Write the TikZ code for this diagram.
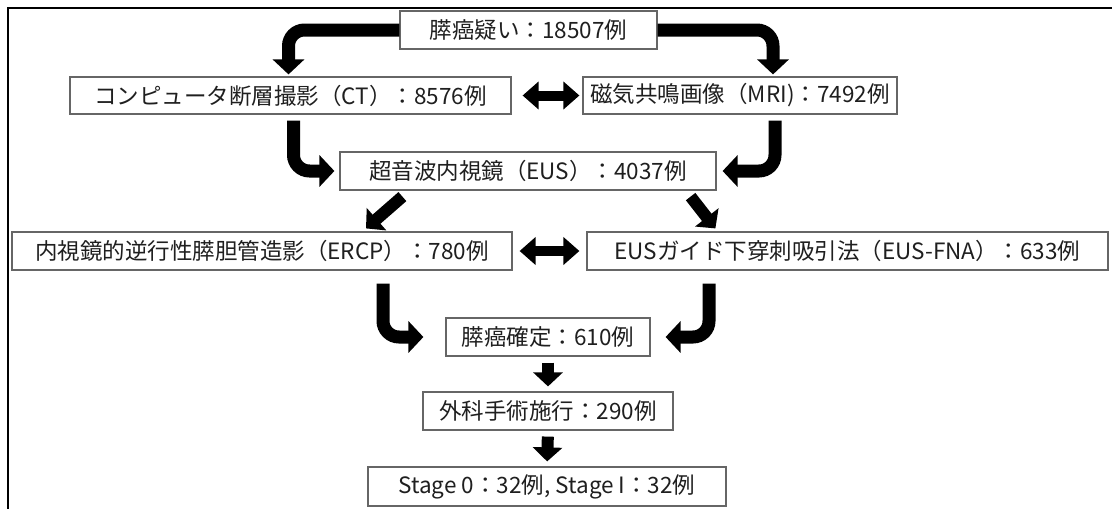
\documentclass[tikz,border=0pt]{standalone}
\usepackage{fontspec}
\setmainfont{Noto Sans CJK JP}
\usetikzlibrary{arrows.meta}
\begin{document}
\begin{tikzpicture}[x=1pt,y=-1pt,
  box/.style={draw=black!60, line width=1.2pt, fill=white, inner sep=0pt,
    font=\fontsize{22.5}{23}\selectfont, text=black!88},
  fat/.style={draw=black, line width=13pt, rounded corners=16pt,
    -{Triangle[width=31pt,length=15pt]}},
  slim/.style={draw=black, line width=12pt,
    -{Triangle[width=29pt,length=14pt]}},
  dbl/.style={draw=black, line width=10pt,
    {Triangle[width=27pt,length=16pt]}-{Triangle[width=27pt,length=16pt]}}
]
\useasboundingbox (0,0) rectangle (1112,509);
\draw[line width=2pt, line cap=rect] (8,509) -- (8,8) -- (1112,8);

\node[box, minimum width=257pt, minimum height=38pt] (top) at (528.5,30) {膵癌疑い：18507例};
\node[box, minimum width=441pt, minimum height=37pt] (ct) at (290.5,95.5) {コンピュータ断層撮影（CT）：8576例};
\node[box, minimum width=314pt, minimum height=37pt] (mri) at (740,95.5) {磁気共鳴画像（MRI)：7492例};
\node[box, minimum width=376pt, minimum height=38pt] (eus) at (528,171) {超音波内視鏡（EUS）：4037例};
\node[box, minimum width=500pt, minimum height=38pt] (ercp) at (262,251) {内視鏡的逆行性膵胆管造影（ERCP）：780例};
\node[box, minimum width=521pt, minimum height=38pt] (fna) at (847.5,251) {EUSガイド下穿刺吸引法（EUS-FNA）：633例};
\node[box, minimum width=204pt, minimum height=38pt] (conf) at (548,337) {膵癌確定：610例};
\node[box, minimum width=250pt, minimum height=38pt] (surg) at (548,411) {外科手術施行：290例};
\node[box, minimum width=358pt, minimum height=39pt] (stage) at (547,486.5) {Stage 0：32例, Stage I：32例};

% top to CT / MRI
\draw[fat, shorten >=2pt] (top.west) -| ([xshift=-2pt]ct.north);
\draw[fat, shorten >=2pt] (top.east) -| ([xshift=33pt]mri.north);
% CT <-> MRI
\draw[dbl, shorten <=11pt, shorten >=3pt] (ct.east) -- (mri.west);
% CT, MRI to EUS
\draw[fat] ([xshift=3pt,yshift=-6pt]ct.south) |- ([xshift=-5pt]eus.west);
\draw[fat] ([xshift=35pt,yshift=-6pt]mri.south) |- ([xshift=6pt]eus.east);
% EUS to ERCP / FNA
\draw[slim] ([xshift=63pt,yshift=-6pt]eus.south west) -- ([xshift=104pt,yshift=3pt]ercp.north);
\draw[slim] ([xshift=-26pt,yshift=-6pt]eus.south east) -- ([xshift=129pt,yshift=3pt]fna.north west);
% ERCP <-> FNA
\draw[dbl, shorten <=7pt, shorten >=7pt] (ercp.east) -- (fna.west);
% ERCP, FNA to confirmed
\draw[fat] ([xshift=121pt,yshift=-13pt]ercp.south) |- ([xshift=-22pt]conf.west);
\draw[fat] ([xshift=-138.5pt,yshift=-13pt]fna.south) |- ([xshift=15pt]conf.east);
% down arrows
\draw[slim, shorten <=6pt, shorten >=5pt] (conf.south) -- (surg.north);
\draw[slim, shorten <=6pt, shorten >=5pt] (surg.south) -- (stage.north);
\end{tikzpicture}
\end{document}
